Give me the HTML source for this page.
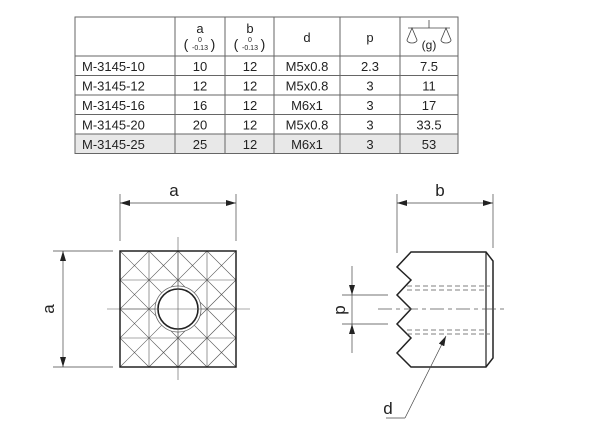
<!DOCTYPE html>
<html><head><meta charset="utf-8"><style>
html,body{margin:0;padding:0;background:#fff;width:600px;height:442px;overflow:hidden}
svg{display:block}
text{font-family:"Liberation Sans",Arial,sans-serif;fill:#222}
</style></head><body>
<svg width="600" height="442" viewBox="0 0 600 442" xmlns="http://www.w3.org/2000/svg">
<defs>
<marker id="ar" viewBox="0 0 10 6" refX="10" refY="3" markerWidth="10" markerHeight="6" orient="auto-start-reverse" markerUnits="userSpaceOnUse"><path d="M0,0 L10,3 L0,6 z" fill="#222"/></marker>
</defs>
<!-- table -->
<rect x="75" y="134" width="383" height="19.5" fill="#e8e8e8"/>
<g stroke="#666" stroke-width="1" fill="none">
<rect x="75" y="17" width="383" height="136.5"/>
<line x1="75" y1="56" x2="458" y2="56"/>
<line x1="75" y1="75.5" x2="458" y2="75.5"/>
<line x1="75" y1="95" x2="458" y2="95"/>
<line x1="75" y1="114.5" x2="458" y2="114.5"/>
<line x1="75" y1="134" x2="458" y2="134"/>
<line x1="175" y1="17" x2="175" y2="153.5"/>
<line x1="225" y1="17" x2="225" y2="153.5"/>
<line x1="274" y1="17" x2="274" y2="153.5"/>
<line x1="340" y1="17" x2="340" y2="153.5"/>
<line x1="400" y1="17" x2="400" y2="153.5"/>
</g>
<g font-size="13" text-anchor="middle">
<text x="200" y="33">a</text><text x="250" y="33">b</text>
<text x="307" y="42">d</text><text x="370" y="42">p</text>
<text x="186" y="49" font-size="14">(</text><text x="213" y="49" font-size="14">)</text>
<text x="236" y="49" font-size="14">(</text><text x="263" y="49" font-size="14">)</text>
<text x="200" y="42" font-size="7">0</text><text x="200" y="50" font-size="7">-0.13</text>
<text x="250" y="42" font-size="7">0</text><text x="250" y="50" font-size="7">-0.13</text>
<text x="429" y="49" font-size="12">(g)</text>
</g>
<g stroke="#444" stroke-width="0.8" fill="none">
<line x1="408" y1="28" x2="450" y2="28"/><line x1="429" y1="20" x2="429" y2="28"/>
<path d="M412,28 L407,40 A5,3 0 0 0 417,40 Z"/><path d="M446,28 L441,40 A5,3 0 0 0 451,40 Z"/>
</g>
<g font-size="13">
<text x="82" y="71">M-3145-10</text><text x="82" y="90.5">M-3145-12</text>
<text x="82" y="110">M-3145-16</text><text x="82" y="129.5">M-3145-20</text>
<text x="82" y="149">M-3145-25</text>
</g>
<g font-size="13" text-anchor="middle">
<text x="200" y="71">10</text><text x="250" y="71">12</text><text x="307" y="71">M5x0.8</text><text x="370" y="71">2.3</text><text x="429" y="71">7.5</text>
<text x="200" y="90.5">12</text><text x="250" y="90.5">12</text><text x="307" y="90.5">M5x0.8</text><text x="370" y="90.5">3</text><text x="429" y="90.5">11</text>
<text x="200" y="110">16</text><text x="250" y="110">12</text><text x="307" y="110">M6x1</text><text x="370" y="110">3</text><text x="429" y="110">17</text>
<text x="200" y="129.5">20</text><text x="250" y="129.5">12</text><text x="307" y="129.5">M5x0.8</text><text x="370" y="129.5">3</text><text x="429" y="129.5">33.5</text>
<text x="200" y="149">25</text><text x="250" y="149">12</text><text x="307" y="149">M6x1</text><text x="370" y="149">3</text><text x="429" y="149">53</text>
</g>
<!-- front view -->
<g stroke="#555" stroke-width="0.6" fill="none">
<line x1="149" y1="251" x2="149" y2="367"/><line x1="178" y1="251" x2="178" y2="367"/><line x1="207" y1="251" x2="207" y2="367"/>
<line x1="120" y1="280" x2="236" y2="280"/><line x1="120" y1="309" x2="236" y2="309"/><line x1="120" y1="338" x2="236" y2="338"/>
<line x1="120" y1="251" x2="236" y2="367"/><line x1="149" y1="251" x2="236" y2="338"/><line x1="178" y1="251" x2="236" y2="309"/><line x1="207" y1="251" x2="236" y2="280"/>
<line x1="120" y1="280" x2="207" y2="367"/><line x1="120" y1="309" x2="178" y2="367"/><line x1="120" y1="338" x2="149" y2="367"/>
<line x1="236" y1="251" x2="120" y2="367"/><line x1="207" y1="251" x2="120" y2="338"/><line x1="178" y1="251" x2="120" y2="309"/><line x1="149" y1="251" x2="120" y2="280"/>
<line x1="236" y1="280" x2="149" y2="367"/><line x1="236" y1="309" x2="178" y2="367"/><line x1="236" y1="338" x2="207" y2="367"/>
<line x1="178" y1="237" x2="178" y2="380"/><line x1="107" y1="309" x2="250" y2="309"/>
</g>
<circle cx="178" cy="309" r="23" fill="#fff" stroke="#666" stroke-width="0.8"/>
<circle cx="178" cy="309" r="20" fill="#fff" stroke="#222" stroke-width="1.6"/>
<g stroke="#555" stroke-width="0.6"><line x1="178" y1="285" x2="178" y2="333"/><line x1="154" y1="309" x2="202" y2="309"/></g>
<rect x="120" y="251" width="116" height="116" fill="none" stroke="#222" stroke-width="1.5"/>
<g stroke="#444" stroke-width="0.7" fill="none">
<line x1="120" y1="194" x2="120" y2="241"/><line x1="236" y1="194" x2="236" y2="241"/>
<line x1="120" y1="203" x2="236" y2="203" marker-start="url(#ar)" marker-end="url(#ar)"/>
<line x1="53" y1="251" x2="113" y2="251"/><line x1="53" y1="367" x2="113" y2="367"/>
<line x1="63" y1="251" x2="63" y2="367" marker-start="url(#ar)" marker-end="url(#ar)"/>
</g>
<text x="174" y="196" font-size="17" text-anchor="middle">a</text>
<text x="0" y="0" font-size="17" text-anchor="middle" transform="translate(54,309) rotate(-90)">a</text>
<!-- side view -->
<path d="M411,252 L486,252 L493,261 L493,358 L486,367 L411,367 L397,353 L411,338 L397,324 L411,309 L397,295 L411,280 L397,267 Z" fill="none" stroke="#222" stroke-width="1.5"/>
<line x1="486" y1="252" x2="486" y2="367" stroke="#222" stroke-width="1.2"/>
<g stroke="#555" stroke-width="0.7" fill="none" stroke-dasharray="5,3">
<line x1="407" y1="286" x2="490" y2="286"/><line x1="407" y1="290" x2="486" y2="290"/>
<line x1="407" y1="330" x2="486" y2="330"/><line x1="407" y1="334" x2="490" y2="334"/>
</g>
<line x1="378" y1="309" x2="507" y2="309" stroke="#555" stroke-width="0.7" stroke-dasharray="14,4,4,4"/>
<g stroke="#444" stroke-width="0.7" fill="none">
<line x1="397" y1="194" x2="397" y2="253"/><line x1="493" y1="194" x2="493" y2="248"/>
<line x1="397" y1="203" x2="493" y2="203" marker-start="url(#ar)" marker-end="url(#ar)"/>
<line x1="342" y1="295" x2="388" y2="295"/><line x1="342" y1="324" x2="388" y2="324"/>
<line x1="352" y1="266" x2="352" y2="295" marker-end="url(#ar)"/>
<line x1="352" y1="353" x2="352" y2="324" marker-end="url(#ar)"/>
<line x1="352" y1="295" x2="352" y2="324"/>
<polyline points="386,418 405,418"/>
<line x1="405" y1="418" x2="446" y2="336" marker-end="url(#ar)"/>
</g>
<text x="440" y="196" font-size="17" text-anchor="middle">b</text>
<text x="0" y="0" font-size="17" text-anchor="middle" transform="translate(345,310) rotate(-90)">p</text>
<text x="388" y="414" font-size="17" text-anchor="middle">d</text>
</svg>
</body></html>
